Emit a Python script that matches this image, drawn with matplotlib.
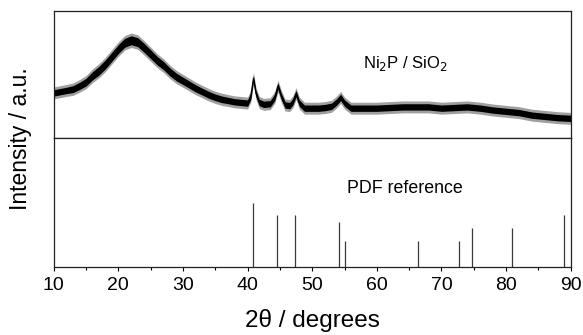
import matplotlib
matplotlib.use("Agg")
import matplotlib.pyplot as plt
import numpy as np
from matplotlib.ticker import MultipleLocator

plt.rcParams['font.family'] = ['Liberation Sans', 'DejaVu Sans']

two_theta = [10, 11, 12, 13, 14, 15, 16, 17, 18, 19, 20, 21, 22, 23, 24, 25, 26, 27, 28, 29,
             30, 31, 32, 33, 34, 35, 36, 37, 38, 39, 40, 40.5, 40.9, 41.3, 41.8, 42.5, 43.5,
             44.2, 44.7, 45.2, 45.8, 46.5, 47.0, 47.5, 48.0, 48.8, 50, 51, 52, 53, 53.8, 54.4,
             55.0, 56, 57, 58, 60, 62, 64, 66, 68, 70, 72, 74, 76, 78, 80, 82, 84, 86, 88, 90]
intensity = [35.5, 36.5, 37.5, 38.5, 41, 44, 49, 53, 58, 64, 70, 75, 77, 75.5, 71, 66, 61, 57,
             52, 48, 45, 42, 39, 36.5, 34, 32, 30.5, 29.5, 28.5, 28, 27.5, 33, 47, 35, 28, 26.5,
             27, 32, 41, 33, 26, 25.5, 28.5, 35, 27.5, 23.5, 23.5, 23.5, 24, 25, 28.5, 32, 27.5,
             23.5, 23.5, 23.5, 23.5, 24, 24.5, 24.5, 24.5, 23.5, 24, 24.5, 23.5, 22, 21, 20, 18,
             17, 16, 15.5]
# half-width of the dense noise band around the trace
noise_halfwidth = [2.5, 2.5, 2.5, 2.7, 2.8, 3.0, 3.2, 3.4, 3.5, 3.5, 3.5, 3.5, 3.5, 3.5, 3.5,
                   3.4, 3.3, 3.2, 3.1, 3.0, 2.9, 2.8, 2.8, 2.7, 2.7, 2.6, 2.6, 2.5, 2.5, 2.5,
                   2.5, 2.5, 2.5, 2.5, 2.5, 2.5, 2.5, 2.5, 2.5, 2.5, 2.5, 2.5, 2.5, 2.5, 2.5,
                   2.5, 2.5, 2.5, 2.5, 2.5, 2.5, 2.5, 2.5, 2.5, 2.5, 2.5, 2.5, 2.5, 2.5, 2.5,
                   2.5, 2.5, 2.5, 2.5, 2.5, 2.5, 2.5, 2.5, 2.5, 2.5, 2.5, 2.5]

# PDF reference stick pattern
ref_positions = [40.8, 44.6, 47.3, 54.2, 55.0, 66.3, 72.7, 74.7, 80.9, 88.9]
ref_heights = [50, 40, 40, 35, 20, 20, 20, 30, 30, 40]

x = np.array(two_theta)
y = np.array(intensity)
hw = np.array(noise_halfwidth)

fig = plt.figure(figsize=(5.83, 3.35), dpi=100)
ax1 = fig.add_axes([0.0921, 0.588, 0.979 - 0.0921, 0.967 - 0.588])
ax2 = fig.add_axes([0.0921, 0.203, 0.979 - 0.0921, 0.588 - 0.203], sharex=ax1)

# top panel
ax1.fill_between(x, y - hw - 2.2, y + hw + 2.2, color='#a0a0a0', lw=0)
ax1.fill_between(x, y - hw, y + hw, color='black', lw=0)
ax1.plot(x, y, color='black', lw=0.8)
ax1.set_xlim(10, 90)
ax1.set_ylim(0, 100)
ax1.set_yticks([])
ax1.tick_params(axis='x', which='both', bottom=False, labelbottom=False)
ax1.text(64.4, 59, 'Ni$_2$P / SiO$_2$', fontsize=12, ha='center', va='center')

# bottom panel
ax2.vlines(ref_positions, 0, ref_heights, color='#3a3a3a', lw=0.9)
ax2.set_ylim(0, 100)
ax2.set_yticks([])
ax2.set_xlim(10, 90)
ax2.xaxis.set_major_locator(MultipleLocator(10))
ax2.xaxis.set_minor_locator(MultipleLocator(5))
ax2.tick_params(axis='x', which='major', direction='out', length=3, width=0.8, labelsize=14, pad=4)
ax2.tick_params(axis='x', which='minor', direction='out', length=2.5, width=0.8)
ax2.text(64.4, 60.5, 'PDF reference', fontsize=12.8, ha='center', va='center')
ax2.set_xlabel('2θ / degrees', fontsize=17.5, labelpad=11)

for ax in (ax1, ax2):
    for s in ax.spines.values():
        s.set_linewidth(0.9)
        s.set_color('#222222')

fig.text(0.035, (0.203 + 0.967) / 2, 'Intensity / a.u.', rotation=90, fontsize=16.5,
         ha='center', va='center')

fig.savefig('out.png', dpi=100)
